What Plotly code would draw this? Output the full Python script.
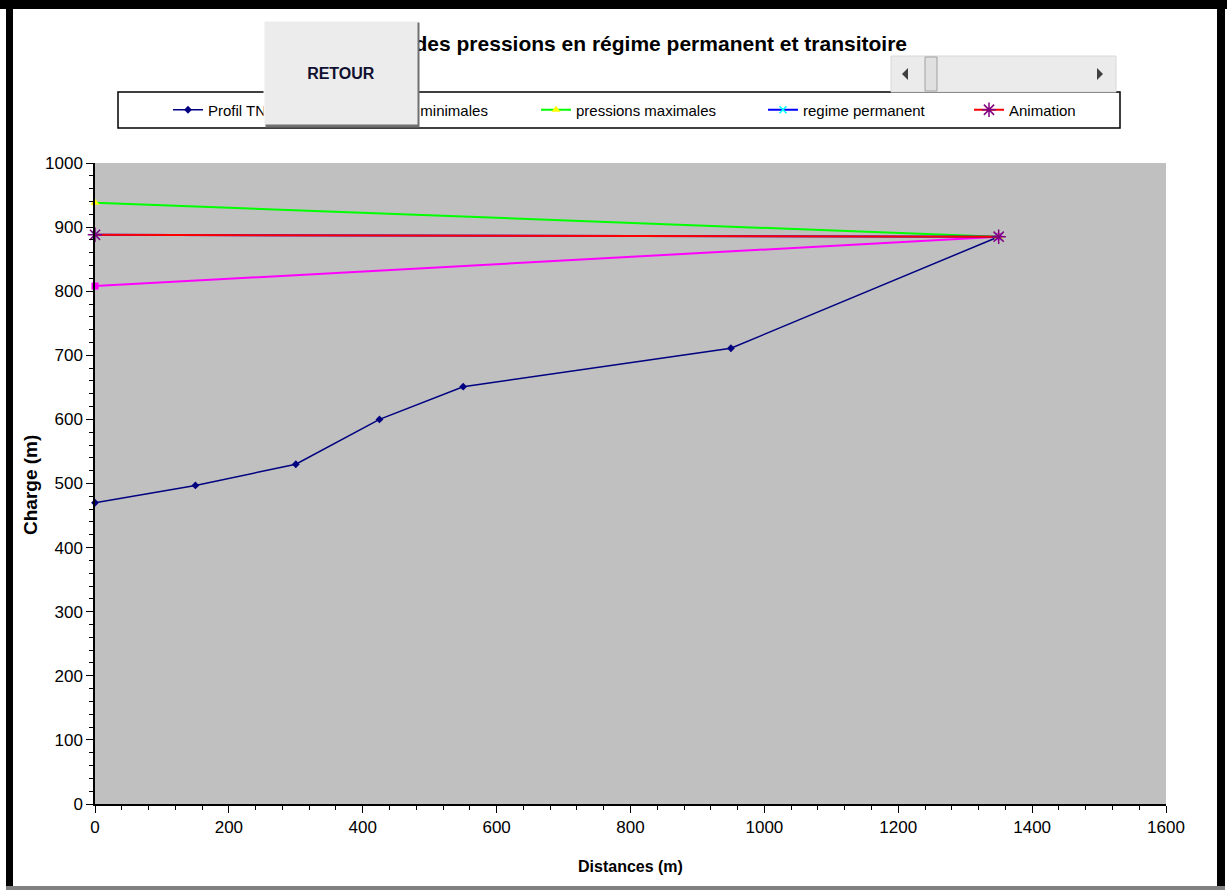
import plotly.graph_objects as go

# ---- data ----
tn_x = [0, 150, 300, 425, 550, 950, 1350]
tn_y = [470, 497, 530, 600, 651, 711, 885]
pmin_x = [0, 1350]
pmin_y = [808, 885]
pmax_x = [0, 1350]
pmax_y = [938, 885]
perm_x = [0, 1350]
perm_y = [888, 885]
anim_x = [0, 1350]
anim_y = [888, 885]

x_ticks = [0, 200, 400, 600, 800, 1000, 1200, 1400, 1600]
y_ticks = [0, 100, 200, 300, 400, 500, 600, 700, 800, 900, 1000]

FW, FH = 1227, 892
L, R, T, B = 95, 1166, 163, 804


def px(x):
    return (x - L) / (R - L)


def py(y):
    return (B - y) / (B - T)


FONT = "Liberation Sans, Arial, sans-serif"

fig = go.Figure()
fig.add_trace(go.Scatter(x=tn_x, y=tn_y, name="Profil TN", mode="lines+markers", legend="legend",
                         line=dict(color="#000080", width=1.5),
                         marker=dict(symbol="diamond", size=6, color="#000080"),
                         cliponaxis=False))
fig.add_trace(go.Scatter(x=pmin_x, y=pmin_y, name="pressions minimales", mode="lines+markers",
                         legend="legend2",
                         line=dict(color="#ff00ff", width=2),
                         marker=dict(symbol="square", size=7, color="#ff00ff"),
                         cliponaxis=False))
fig.add_trace(go.Scatter(x=pmax_x, y=pmax_y, name="pressions maximales", mode="lines+markers",
                         legend="legend3",
                         line=dict(color="#00ff00", width=2),
                         marker=dict(symbol="triangle-up", size=8, color="#ffff00"),
                         cliponaxis=False))
fig.add_trace(go.Scatter(x=perm_x, y=perm_y, name="regime permanent", mode="lines+markers",
                         legend="legend4",
                         line=dict(color="#0000ff", width=2),
                         marker=dict(symbol="x-thin-open", size=7, color="#00ffff",
                                     line=dict(color="#00ffff", width=1.5)),
                         cliponaxis=False))
fig.add_trace(go.Scatter(x=anim_x, y=anim_y, name="Animation", mode="lines+markers",
                         legend="legend5",
                         line=dict(color="#ff0000", width=2),
                         marker=dict(symbol="asterisk-open", size=12, color="#800080",
                                     line=dict(color="#800080", width=1.5)),
                         cliponaxis=False))

shapes = []
# outer frame
shapes.append(dict(type="rect", xref="paper", yref="paper", x0=px(0), x1=px(FW), y0=py(0), y1=py(9),
                   fillcolor="black", line=dict(width=0)))
shapes.append(dict(type="rect", xref="paper", yref="paper", x0=px(6), x1=px(13), y0=py(0), y1=py(889),
                   fillcolor="black", line=dict(width=0)))
shapes.append(dict(type="rect", xref="paper", yref="paper", x0=px(1217), x1=px(1225), y0=py(0), y1=py(889),
                   fillcolor="black", line=dict(width=0)))
shapes.append(dict(type="rect", xref="paper", yref="paper", x0=px(6), x1=px(1225), y0=py(886), y1=py(890),
                   fillcolor="#808080", line=dict(width=0)))
# legend box
shapes.append(dict(type="rect", xref="paper", yref="paper", x0=px(118), x1=px(1120), y0=py(128), y1=py(92),
                   fillcolor="white", line=dict(color="black", width=1.5), layer="below"))
# scrollbar
shapes.append(dict(type="rect", xref="paper", yref="paper", x0=px(891), x1=px(1116), y0=py(92), y1=py(56),
                   fillcolor="#ebebeb", line=dict(color="#d8d8d8", width=1)))
shapes.append(dict(type="rect", xref="paper", yref="paper", x0=px(925), x1=px(937), y0=py(91), y1=py(57),
                   fillcolor="#e0e0e0", line=dict(color="#a0a0a0", width=1)))


def tri(points, color):
    d = "M " + " L ".join(f"{px(a)},{py(b)}" for a, b in points) + " Z"
    return dict(type="path", xref="paper", yref="paper", path=d, fillcolor=color, line=dict(width=0))


shapes.append(tri([(908, 68), (908, 80), (902, 74)], "#404040"))
shapes.append(tri([(1097, 68), (1097, 80), (1103, 74)], "#404040"))

annotations = []
annotations.append(dict(text="<b>Profil des pressions en régime permanent et transitoire</b>",
                        xref="paper", yref="paper", x=px(909), y=py(44), xanchor="right", yanchor="middle",
                        showarrow=False, font=dict(family=FONT, size=21, color="black")))
annotations.append(dict(text="<b>Charge (m)</b>", xref="paper", yref="paper", x=px(31), y=py(485),
                        textangle=-90, showarrow=False, xanchor="center", yanchor="middle",
                        font=dict(family=FONT, size=19, color="black")))
annotations.append(dict(text="<b>Distances (m)</b>", xref="paper", yref="paper", x=px(630), y=py(866),
                        showarrow=False, xanchor="center", yanchor="middle",
                        font=dict(family=FONT, size=16, color="black")))
# RETOUR button (highlight, shadow, face)
annotations.append(dict(text="", xref="paper", yref="paper", x=px(263), y=py(20), xanchor="left",
                        yanchor="top", width=153, height=103, bgcolor="#ffffff", borderpad=0,
                        showarrow=False))
annotations.append(dict(text="", xref="paper", yref="paper", x=px(265), y=py(22), xanchor="left",
                        yanchor="top", width=153, height=104, bgcolor="#707070", borderpad=0,
                        showarrow=False))
annotations.append(dict(text="<b>RETOUR</b>", xref="paper", yref="paper", x=px(264), y=py(21),
                        xanchor="left", yanchor="top", width=152, height=102, bgcolor="#ececec",
                        borderpad=0, showarrow=False,
                        font=dict(family=FONT, size=16, color="#101030")))

axis_common = dict(showline=True, linecolor="black", linewidth=1.5, ticks="outside", tickcolor="black",
                   ticklen=7, tickwidth=1, showgrid=False, zeroline=False,
                   tickfont=dict(family=FONT, size=17, color="black"))


def leg(xpix):
    return dict(orientation="h", x=px(xpix), y=py(110), xanchor="left", yanchor="middle",
                bgcolor="rgba(0,0,0,0)", borderwidth=0,
                font=dict(family=FONT, size=15, color="black"), itemclick=False)


fig.update_layout(
    width=FW, height=FH,
    margin=dict(l=L, r=FW - R, t=T, b=FH - B),
    paper_bgcolor="white", plot_bgcolor="#c0c0c0",
    showlegend=True,
    legend=leg(168), legend2=leg(312), legend3=leg(536), legend4=leg(763), legend5=leg(969),
    xaxis=dict(range=[0, 1600], tickvals=x_ticks,
               minor=dict(dtick=40, ticks="outside", ticklen=4, tickcolor="black"), **axis_common),
    yaxis=dict(range=[0, 1000], tickvals=y_ticks,
               minor=dict(dtick=20, ticks="outside", ticklen=4, tickcolor="black"), **axis_common),
    shapes=shapes,
    annotations=annotations,
)

fig.write_html("out.html", config={"displayModeBar": False},
               post_script="document.body.style.margin='0px';")
